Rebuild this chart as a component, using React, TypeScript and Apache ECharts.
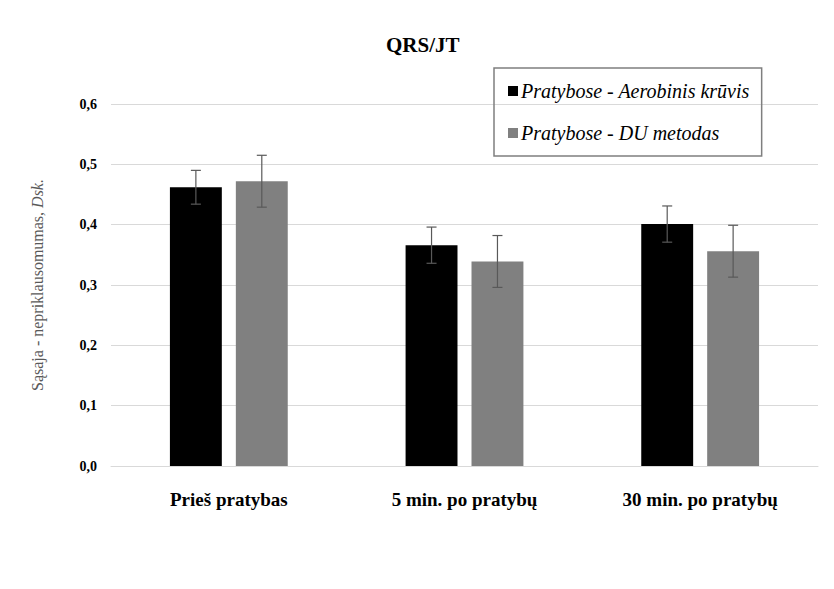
import React, { useEffect, useRef } from "react";
import * as echarts from "echarts";

const categories = ["Prieš pratybas", "5 min. po pratybų", "30 min. po pratybų"];
const seriesNames = ["Pratybose - Aerobinis krūvis", "Pratybose - DU metodas"];
const aerobicValues = [0.462, 0.366, 0.401];
const aerobicErrors = [0.028, 0.03, 0.03];
const duValues = [0.472, 0.339, 0.356];
const duErrors = [0.043, 0.043, 0.043];
const yTicks = ["0,0", "0,1", "0,2", "0,3", "0,4", "0,5", "0,6"];

const SERIF = "serif";
const TIMES = "Times New Roman";
const BAR_GAP = 0.27;
const CAT_GAP = 0.5;

function errorSeries(values: number[], errors: number[], idx: number) {
  return {
    type: "custom",
    silent: true,
    z: 5,
    data: values.map((v, i) => [i, v, errors[i]]),
    renderItem: (params: any, api: any) => {
      const i = api.value(0);
      const v = api.value(1);
      const e = api.value(2);
      const band = api.size([1, 0])[0];
      const bw = (band * (1 - CAT_GAP)) / (2 + BAR_GAP);
      const off = (bw + bw * BAR_GAP) / 2;
      const top = api.coord([i, v + e]);
      const bot = api.coord([i, v - e]);
      const x = top[0] + (idx === 0 ? -off : off);
      const cap = 5;
      const style = { stroke: "#595959", lineWidth: 1.2 };
      return {
        type: "group",
        children: [
          { type: "line", shape: { x1: x, y1: top[1], x2: x, y2: bot[1] }, style },
          { type: "line", shape: { x1: x - cap, y1: top[1], x2: x + cap, y2: top[1] }, style },
          { type: "line", shape: { x1: x - cap, y1: bot[1], x2: x + cap, y2: bot[1] }, style },
        ],
      };
    },
  };
}

export default function App() {
  const ref = useRef<HTMLDivElement>(null);
  useEffect(() => {
    if (!ref.current) return;
    const chart = echarts.init(ref.current, undefined, { renderer: "svg" });
    chart.setOption({
      animation: false,
      title: {
        text: "QRS/JT",
        left: 381,
        top: 29,
        textStyle: { fontFamily: TIMES, fontWeight: "bold", fontSize: 21, color: "#000" },
      },
      legend: {
        orient: "vertical",
        left: 494,
        top: 68,
        padding: [13, 12, 13, 14],
        itemGap: 22,
        borderColor: "#7f7f7f",
        borderWidth: 1.5,
        itemWidth: 10,
        itemHeight: 10,
        icon: "rect",
        data: seriesNames,
        textStyle: { fontFamily: TIMES, fontStyle: "italic", fontSize: 20, color: "#000", padding: [0, 0, 0, -2] },
      },
      grid: { left: 111, right: 16, top: 104, bottom: 123, containLabel: false },
      xAxis: {
        type: "category",
        data: categories,
        axisLine: { show: true, lineStyle: { color: "#d9d9d9" } },
        axisTick: { show: false },
        axisLabel: {
          margin: 24,
          fontFamily: TIMES,
          fontWeight: "bold",
          fontSize: 19,
          color: "#000",
        },
      },
      yAxis: {
        type: "value",
        min: 0,
        max: 0.6,
        interval: 0.1,
        name: "{a|Sąsaja - nepriklausomumas, }{b|Dsk.}",
        nameLocation: "middle",
        nameGap: 66,
        nameRotate: 90,
        nameTextStyle: {
          fontFamily: SERIF,
          rich: {
            a: { fontFamily: SERIF, fontSize: 16, color: "#595959" },
            b: { fontFamily: SERIF, fontSize: 16, color: "#595959", fontStyle: "italic" },
          },
        },
        axisLine: { show: false },
        axisTick: { show: false },
        splitLine: { lineStyle: { color: "#d9d9d9", width: 1 } },
        axisLabel: {
          margin: 14,
          fontFamily: SERIF,
          fontWeight: "bold",
          fontSize: 14,
          color: "#000",
          formatter: (v: number) => yTicks[Math.round(v * 10)],
        },
      },
      series: [
        {
          name: seriesNames[0],
          type: "bar",
          data: aerobicValues,
          barGap: BAR_GAP * 100 + "%",
          barCategoryGap: CAT_GAP * 100 + "%",
          itemStyle: { color: "#000000" },
        },
        {
          name: seriesNames[1],
          type: "bar",
          data: duValues,
          barGap: BAR_GAP * 100 + "%",
          barCategoryGap: CAT_GAP * 100 + "%",
          itemStyle: { color: "#808080" },
        },
        errorSeries(aerobicValues, aerobicErrors, 0),
        errorSeries(duValues, duErrors, 1),
      ],
    });
    return () => chart.dispose();
  }, []);
  return <div ref={ref} style={{ width: 834, height: 589, position: "absolute", left: 0, top: 0 }} />;
}
